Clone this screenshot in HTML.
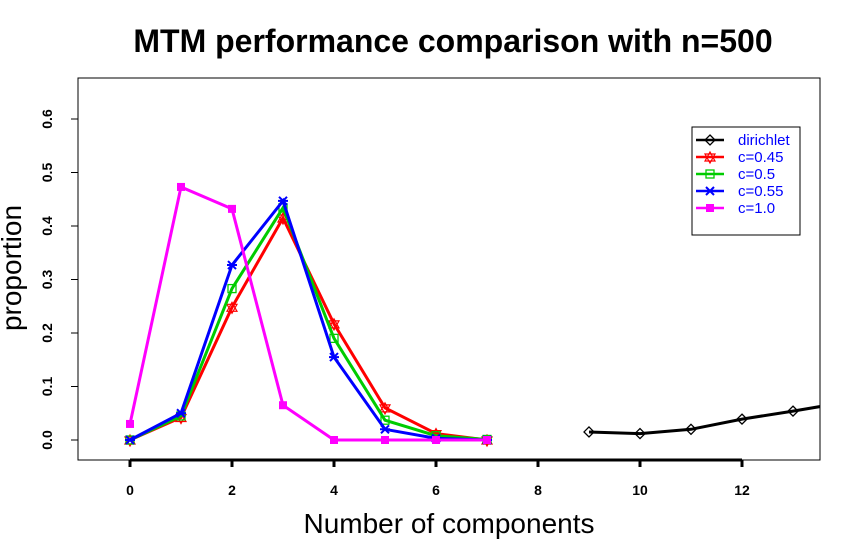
<!DOCTYPE html>
<html><head><meta charset="utf-8"><style>
body{margin:0;background:#fff;}
svg{display:block;font-family:"Liberation Sans",Arial,sans-serif;}
</style></head><body>
<svg id="chart" width="861" height="558">
<text x="453" y="52" text-anchor="middle" font-size="32" font-weight="bold">MTM performance comparison with n=500</text>
<text x="449" y="533" text-anchor="middle" font-size="28">Number of components</text>
<text transform="translate(21,268) rotate(-90)" text-anchor="middle" font-size="28">proportion</text>
<rect x="78" y="78" width="742" height="382" fill="none" stroke="#000" stroke-width="1"/>
<g id="axes"></g>
<defs><clipPath id="pc"><rect x="78" y="78" width="742" height="382"/></clipPath></defs>
<g id="series" clip-path="url(#pc)"></g>
<g>
<rect x="692" y="127" width="108" height="108" fill="#fff" stroke="#000"/>
<g id="legend"></g>
</g>
</svg>
<script>
const xTicks=[0,2,4,6,8,10,12];
const yTicks=[0.0,0.1,0.2,0.3,0.4,0.5,0.6];
const seriesNames=["dirichlet","c=0.45","c=0.5","c=0.55","c=1.0"];
const colors=["#000","#f00","#0c0","#00f","#f0f"];
const dirichletX=[9,10,11,12,13,14];
const dirichletY=[0.015,0.012,0.02,0.039,0.054,0.07];
const cX=[0,1,2,3,4,5,6,7];
const c045=[0.0,0.042,0.248,0.415,0.217,0.06,0.012,0.0];
const c05=[0.0,0.045,0.283,0.434,0.19,0.037,0.008,0.001];
const c055=[0.0,0.05,0.327,0.447,0.155,0.02,0.003,0.0];
const c10=[0.03,0.473,0.432,0.065,0.0,0.0,0.0,0.0];

const NS="http://www.w3.org/2000/svg";
const X=v=>130+51*v, Y=v=>440-535*v;
function mk(t,a,p){const e=document.createElementNS(NS,t);for(const k in a)e.setAttribute(k,a[k]);p.appendChild(e);return e;}
const ax=document.getElementById('axes');
let xl=mk('line',{x1:X(xTicks[0]),x2:X(xTicks[xTicks.length-1]),y1:460,y2:460,stroke:'#000','stroke-width':3},ax);


xTicks.forEach(t=>{
 const l=mk('line',{x1:X(t),x2:X(t),y1:460,y2:467,stroke:'#000','stroke-width':3},ax);
 
 
 const tx=mk('text',{x:X(t),y:495,'text-anchor':'middle','font-size':14,'font-weight':'bold'},ax);tx.textContent=t;
 
 
});
yTicks.forEach(t=>{
 const l=mk('line',{x1:71,x2:78,y1:Y(t),y2:Y(t),stroke:'#000'},ax);
 
 
 const tx=mk('text',{transform:`translate(52,${Y(t)}) rotate(-90)`,'text-anchor':'middle','font-size':14,'font-weight':'bold'},ax);tx.textContent=t.toFixed(1);
 
 
});
function marker(g,x,y,i){
 const c=colors[i];
 if(i==0)mk('path',{d:`M${x} ${y-5}L${x+5} ${y}L${x} ${y+5}L${x-5} ${y}Z`,fill:'none',stroke:c,'stroke-width':1.3},g);
 else if(i==4)mk('rect',{x:x-4,y:y-4,width:8,height:8,fill:c},g);
 else if(i==2)mk('rect',{x:x-4,y:y-4,width:8,height:8,fill:'none',stroke:c,'stroke-width':1.3},g);
 else if(i==1)mk('path',{d:`M${x-5} ${y+4}L${x+5} ${y+4}L${x} ${y-5}ZM${x-5} ${y-3}L${x+5} ${y-3}L${x} ${y+6}Z`,fill:'none',stroke:c,'stroke-width':1.2},g);
 else mk('path',{d:`M${x-4} ${y-4}L${x+4} ${y+4}M${x-4} ${y+4}L${x+4} ${y-4}M${x-5} ${y}L${x+5} ${y}`,stroke:c,'stroke-width':2},g);
}
const sg=document.getElementById('series');
const all=[[dirichletX,dirichletY],[cX,c045],[cX,c05],[cX,c055],[cX,c10]];
all.forEach(([xs,ys],i)=>{
 const g=mk('g',{},sg);
 
 
 mk('polyline',{points:xs.map((x,j)=>X(x)+','+Y(ys[j])).join(' '),fill:'none',stroke:colors[i],'stroke-width':3},g);
 xs.forEach((x,j)=>marker(g,X(x),Y(ys[j]),i));
});
const lg=document.getElementById('legend');
seriesNames.forEach((n,i)=>{
 const y=140+17*i;
 const g=mk('g',{},lg);
 
 
 mk('line',{x1:696,x2:724,y1:y,y2:y,stroke:colors[i],'stroke-width':2.5},g);
 marker(g,710,y,i);
 const t=mk('text',{x:738,y:y+5,'font-size':15,fill:'#00f'},g);t.textContent=n;
});
</script>
</body></html>
